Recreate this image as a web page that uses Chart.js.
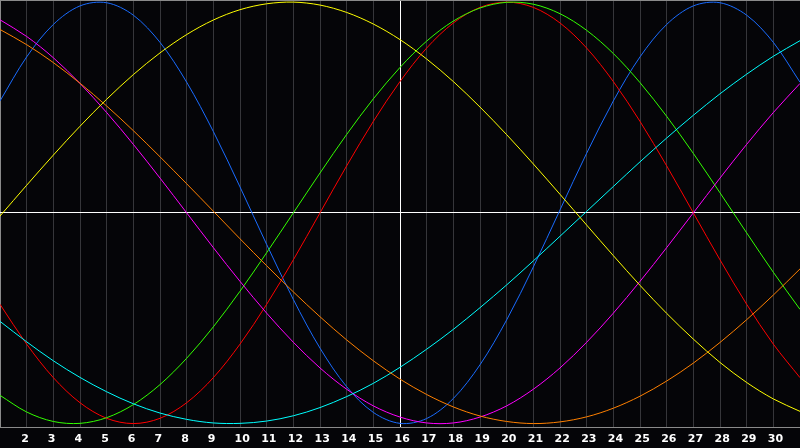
<!DOCTYPE html>
<html>
<head>
<meta charset="utf-8">
<script src="https://cdn.jsdelivr.net/npm/chart.js@4.4.1/dist/chart.umd.min.js"></script>
<style>
    html, body { margin: 0; padding: 0; background: #050508; }
    #wrap { width: 800px; height: 448px; position: relative; }
</style>
</head>
<body>
<div id="wrap"><canvas id="myChart"></canvas></div>
<script>
// days of the month shown on the x axis
const days = ['1', '2', '3', '4', '5', '6', '7', '8', '9', '10', '11', '12', '13', '14', '15', '16',
    '17', '18', '19', '20', '21', '22', '23', '24', '25', '26', '27', '28', '29', '30', '31'];

// cycle values in percent, one per day
const physical = [53.1, 74.0, 89.4, 98.2, 99.7, 93.8, 80.9, 62.0, 38.6, 12.3, -15.0, -41.1, -64.2, -82.5, -94.7, -99.9,
    -97.6, -88.1, -72.1, -50.8, -25.7, 1.4, 28.3, 53.1, 74.0, 89.4, 98.2, 99.7, 93.8, 80.9, 62.0];
const emotional = [-43.4, -62.3, -78.2, -90.1, -97.5, -100, -97.5, -90.1, -78.2, -62.3, -43.4, -22.3, 0, 22.3, 43.4, 62.3,
    78.2, 90.1, 97.5, 100, 97.5, 90.1, 78.2, 62.3, 43.4, 22.3, 0, -22.3, -43.4, -62.3, -78.2];
const intellectual = [-86.6, -94.5, -99.0, -99.9, -97.2, -91.0, -81.5, -69.0, -54.1, -37.2, -18.9, 0, 18.9, 37.2, 54.1, 69.0,
    81.5, 91.0, 97.2, 99.9, 99.0, 94.5, 86.6, 75.6, 61.8, 45.8, 28.2, 9.5, -9.5, -28.2, -45.8];
const aesthetic = [-1.5, 13.1, 27.4, 41.1, 53.9, 65.6, 75.9, 84.6, 91.5, 96.4, 99.2, 100, 98.6, 95.1, 89.6, 82.2,
    73.0, 62.3, 50.2, 37.1, 23.2, 8.8, -5.8, -20.3, -34.4, -47.7, -59.9, -71.0, -80.5, -88.3, -94.2];
const spiritual = [-51.5, -61.2, -70.2, -78.1, -84.9, -90.6, -95.0, -98.0, -99.7, -99.9, -98.8, -96.3, -92.4, -87.2, -80.9, -73.3,
    -64.7, -55.3, -45.0, -34.2, -22.8, -11.1, 0.7, 12.5, 24.2, 35.5, 46.3, 56.5, 65.8, 74.3, 81.7];
const intuitive = [91.6, 83.7, 73.6, 61.4, 47.6, 32.5, 16.5, 0, -16.5, -32.5, -47.6, -61.4, -73.6, -83.7, -91.6, -96.9,
    -99.7, -99.7, -96.9, -91.6, -83.7, -73.6, -61.4, -47.6, -32.5, -16.5, 0, 16.5, 32.5, 47.6, 61.4];
const awareness = [87.0, 79.8, 71.3, 61.5, 50.7, 39.0, 26.6, 13.8, 0.8, -12.3, -25.1, -37.5, -49.3, -60.3, -70.2, -78.9,
    -86.2, -92.1, -96.4, -99.0, -100, -99.2, -96.8, -92.7, -87.0, -79.8, -71.3, -61.5, -50.7, -39.0, -26.6];

const todayIndex = 15;
const yMin = -102;
const yMax = 101;
const gridGrey = '#36363a';
const borderGrey = '#8a8a8a';

function makeLine(label, data, color) {
    return {
        label: label,
        data: data,
        borderColor: color,
        borderWidth: 1,
        pointRadius: 0,
        pointHoverRadius: 0,
        pointHitRadius: 0,
        tension: 0.33,
        fill: false
    };
}

function render() {
    const ctx = document.getElementById('myChart').getContext('2d');
    new Chart(ctx, {
        type: 'line',
        data: {
            labels: days,
            datasets: [
                makeLine('Aesthetic', aesthetic, '#ffff00'),
                makeLine('Awareness', awareness, '#ff8000'),
                makeLine('Spiritual', spiritual, '#00ffff'),
                makeLine('Intuitive', intuitive, '#ff00ff'),
                makeLine('Intellectual', intellectual, '#33ff00'),
                makeLine('Emotional', emotional, '#ff0000'),
                makeLine('Physical', physical, '#1a6cff')
            ]
        },
        options: {
            responsive: true,
            maintainAspectRatio: false,
            animation: false,
            layout: { autoPadding: false, padding: { left: 0, right: 0, top: 0, bottom: 2 } },
            plugins: {
                legend: { display: false },
                tooltip: { enabled: false }
            },
            scales: {
                x: {
                    offset: false,
                    grid: {
                        drawTicks: true,
                        tickLength: 5,
                        tickColor: 'rgba(0,0,0,0)',
                        color: c => c.index === 0 ? borderGrey : (c.index === todayIndex ? '#ffffff' : gridGrey)
                    },
                    border: { color: borderGrey },
                    ticks: {
                        autoSkip: false,
                        maxRotation: 0,
                        align: 'start',
                        labelOffset: -5.5,
                        padding: 0,
                        color: '#ffffff',
                        font: { family: 'DejaVu Sans', size: 11, weight: 'bold' },
                        callback: (value, index) => (index === 0 || index === days.length - 1) ? '' : days[index]
                    }
                },
                y: {
                    min: yMin,
                    max: yMax,
                    afterBuildTicks: axis => {
                        axis.ticks = [{ value: yMin }, { value: 0 }, { value: yMax }];
                    },
                    grid: {
                        drawTicks: false,
                        color: c => c.tick.value === 0 ? '#ffffff' : (c.tick.value === yMax ? borderGrey : 'rgba(0,0,0,0)')
                    },
                    border: { display: false },
                    ticks: { display: false }
                }
            }
        }
    });
}

render();
</script>
</body>
</html>
